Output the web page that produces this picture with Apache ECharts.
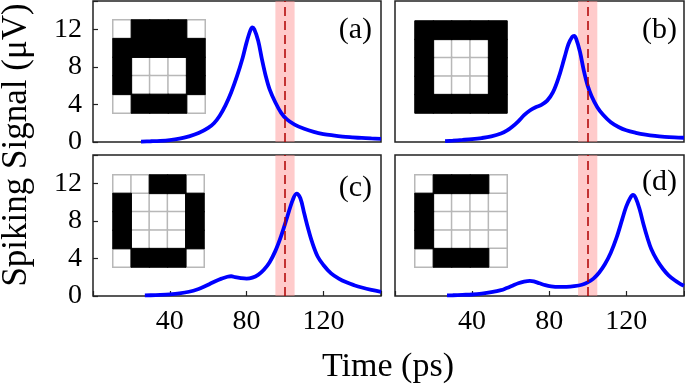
<!DOCTYPE html>
<html>
<head>
<meta charset="utf-8">
<script src="https://cdn.jsdelivr.net/npm/echarts@6/dist/echarts.min.js"></script>
<style>
html,body{margin:0;padding:0;background:#fff;}
#chart{width:685px;height:389px;}
</style>
</head>
<body>
<div id="chart"></div>
<script>
// ---- data ----
const panelLabels = ['(a)', '(b)', '(c)', '(d)'];
const xTickLabels = [40, 80, 120];
const yTickLabels = [0, 4, 8, 12];
const markerTime = 100;
const markerBand = [95, 105];

const tA = [25, 30, 35, 40, 45, 50, 55, 60, 63, 66, 69, 72, 75, 78, 80, 82, 83, 84, 86, 88, 90, 92, 95, 98, 101, 105, 110, 115, 120, 125, 130, 135, 140, 145, 150];
const vA = [0.05, 0.08, 0.12, 0.2, 0.35, 0.6, 0.95, 1.5, 2.0, 2.8, 3.9, 5.3, 7.0, 9.0, 10.6, 11.9, 12.2, 12.0, 10.8, 8.8, 7.0, 5.6, 4.2, 3.1, 2.4, 1.85, 1.4, 1.08, 0.85, 0.7, 0.58, 0.5, 0.43, 0.38, 0.34];

const tB = [26, 30, 35, 40, 45, 50, 55, 58, 61, 64, 67, 70, 73, 76, 79, 82, 85, 88, 90, 92, 93, 94, 96, 98, 100, 102, 105, 108, 112, 116, 120, 125, 130, 135, 140, 145, 150];
const vB = [0.1, 0.15, 0.22, 0.3, 0.42, 0.6, 0.9, 1.2, 1.65, 2.2, 2.85, 3.35, 3.7, 3.95, 4.4, 5.3, 6.9, 9.0, 10.4, 11.2, 11.3, 11.0, 9.6, 7.6, 6.0, 4.9, 3.7, 2.9, 2.1, 1.6, 1.25, 0.98, 0.78, 0.64, 0.55, 0.49, 0.45];

const tC = [27, 30, 35, 40, 45, 50, 55, 58, 61, 64, 67, 70, 72, 74, 77, 80, 83, 86, 89, 92, 95, 98, 101, 104, 106, 108, 110, 112, 114, 117, 120, 124, 128, 132, 136, 140, 145, 150];
const vC = [0.07, 0.08, 0.12, 0.18, 0.28, 0.45, 0.75, 1.0, 1.3, 1.6, 1.85, 2.05, 2.1, 2.0, 1.9, 1.85, 1.95, 2.25, 2.8, 3.6, 4.8, 6.4, 8.3, 10.2, 10.9, 10.4, 8.8, 7.2, 5.8, 4.2, 3.3, 2.4, 1.85, 1.45, 1.15, 0.9, 0.65, 0.45];

const tD = [27, 30, 35, 40, 45, 50, 55, 58, 61, 64, 67, 70, 72, 75, 78, 81, 85, 89, 93, 97, 100, 103, 106, 109, 112, 115, 118, 120, 122, 123.5, 125, 127, 129, 131, 133, 136, 139, 142, 145, 148, 150];
const vD = [0.07, 0.08, 0.12, 0.16, 0.25, 0.4, 0.62, 0.85, 1.1, 1.35, 1.52, 1.6, 1.55, 1.35, 1.15, 1.03, 0.97, 0.98, 1.05, 1.2, 1.45, 1.85, 2.5, 3.4, 4.6, 6.2, 8.2, 9.5, 10.4, 10.75, 10.4, 9.2, 7.6, 6.2, 5.0, 3.8, 2.9, 2.2, 1.7, 1.3, 1.1];

// 5x5 input patterns (1 = black pixel), row 0 at top
const patternA = [
  [0,1,1,1,0],
  [1,1,1,1,1],
  [1,0,0,0,1],
  [1,0,0,0,1],
  [0,1,1,1,0]];
const patternB = [
  [1,1,1,1,1],
  [1,0,0,0,1],
  [1,0,0,0,1],
  [1,0,0,0,1],
  [1,1,1,1,1]];
const patternC = [
  [0,0,1,1,0],
  [1,0,0,0,1],
  [1,0,0,0,1],
  [1,0,0,0,1],
  [0,1,1,1,0]];
const patternD = [
  [0,1,1,1,0],
  [1,0,0,0,0],
  [1,0,0,0,0],
  [1,0,0,0,0],
  [0,1,1,1,0]];

// ---- build ----
const FONT = 'Liberation Serif';
const times = [tA, tB, tC, tD];
const vals = [vA, vB, vC, vD];
const patterns = [patternA, patternB, patternC, patternD];

const panelRects = [
  {left: 93, top: 1, width: 288, height: 141},
  {left: 395, top: 1, width: 289, height: 141},
  {left: 93, top: 155, width: 288, height: 141},
  {left: 395, top: 155, width: 289, height: 141}
];
const insetRects = [
  {left: 113, top: 20, width: 92, height: 93},
  {left: 415, top: 21, width: 92, height: 92},
  {left: 113, top: 175, width: 91, height: 92},
  {left: 415, top: 175, width: 92, height: 92}
];
const labelPos = [
  {right: 313, top: 15},
  {right: 8, top: 15},
  {right: 313, top: 173},
  {right: 8, top: 167}
];

const grid = [], xAxis = [], yAxis = [], series = [], title = [];
const cells = [0,1,2,3,4].map(String);

for (let p = 0; p < 4; p++) {
  const bottom = p >= 2, left = p % 2 === 0;
  grid.push(Object.assign({show: true, borderColor: '#222', borderWidth: 1.5, backgroundColor: 'transparent', containLabel: false, outerBoundsMode: 'none'}, panelRects[p]));
  xAxis.push({
    type: 'value', gridIndex: p, min: 0, max: 150, interval: 40,
    axisLine: {show: false},
    axisTick: {show: bottom, inside: true, length: 5, lineStyle: {color: '#222', width: 1.2}},
    axisLabel: {show: bottom, margin: 12, fontFamily: FONT, fontSize: 28, color: '#000',
      formatter: v => xTickLabels.indexOf(v) >= 0 ? String(v) : ''},
    splitLine: {show: false}
  });
  yAxis.push({
    type: 'value', gridIndex: p, min: 0, max: 15, interval: 4,
    axisLine: {show: false},
    axisTick: {show: left, inside: true, length: 5, lineStyle: {color: '#222', width: 1.2}},
    axisLabel: {show: left, margin: 11, fontFamily: FONT, fontSize: 28, color: '#000',
      formatter: v => yTickLabels.indexOf(v) >= 0 ? String(v) : ''},
    splitLine: {show: false}
  });
  series.push({
    type: 'line', xAxisIndex: p, yAxisIndex: p,
    data: times[p].map((t, i) => [t, vals[p][i]]),
    smooth: 0.35, showSymbol: false, silent: true,
    lineStyle: {color: '#0000ff', width: 3.8},
    z: 3,
    markArea: {silent: true, itemStyle: {color: 'rgba(255,140,140,0.45)'},
      data: [[{xAxis: markerBand[0]}, {xAxis: markerBand[1]}]]},
    markLine: {silent: true, symbol: ['none', 'none'], label: {show: false},
      lineStyle: {color: '#b00000', width: 1.5, type: [9, 5]},
      data: [{xAxis: markerTime}]}
  });
  title.push(Object.assign({text: panelLabels[p], padding: 0,
    textStyle: {fontFamily: FONT, fontSize: 30, fontWeight: 'normal', color: '#000'}}, labelPos[p]));
}

// insets as heatmaps on their own grids
for (let p = 0; p < 4; p++) {
  const gi = 4 + p;
  grid.push(Object.assign({show: false, containLabel: false, outerBoundsMode: 'none'}, insetRects[p]));
  xAxis.push({type: 'category', gridIndex: gi, data: cells, show: false, axisTick: {show: false}});
  yAxis.push({type: 'category', gridIndex: gi, data: cells, inverse: true, show: false, axisTick: {show: false}});
  const white = [], black = [];
  patterns[p].forEach((row, r) => row.forEach((c, col) => (c ? black : white).push([col, r, c])));
  series.push({type: 'heatmap', xAxisIndex: gi, yAxisIndex: gi, data: white, silent: true, z: 5,
    itemStyle: {color: '#ffffff', borderColor: '#b8b8b8', borderWidth: 1.5}});
  series.push({type: 'heatmap', xAxisIndex: gi, yAxisIndex: gi, data: black, silent: true, z: 6,
    itemStyle: {color: '#000000', borderColor: '#000000', borderWidth: 1}});
}

const chart = echarts.init(document.getElementById('chart'), null, {renderer: 'canvas'});
chart.setOption({
  animation: false,
  backgroundColor: '#fff',
  title, grid, xAxis, yAxis, series,
  graphic: [
    {type: 'text', x: 388, y: 367, style: {text: 'Time (ps)', fontFamily: FONT, fontSize: 34, fill: '#000', align: 'center', verticalAlign: 'middle'}},
    {type: 'text', x: 17, y: 145, rotation: Math.PI / 2, style: {text: 'Spiking Signal (μV)', fontFamily: FONT, fontSize: 35, fill: '#000', align: 'center', verticalAlign: 'middle'}}
  ]
});
</script>
</body>
</html>
